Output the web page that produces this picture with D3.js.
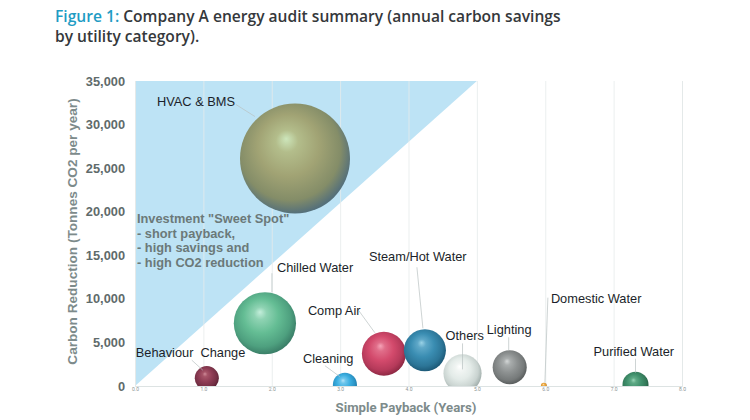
<!DOCTYPE html>
<html>
<head>
<meta charset="utf-8">
<script src="https://cdn.jsdelivr.net/npm/d3@7"></script>
<style>
  body { margin: 0; background: #fff; }
  svg { display: block; }
</style>
</head>
<body>
<div id="chart"></div>
<script>

// data
var categories = ["HVAC & BMS", "Chilled Water", "Behaviour  Change", "Cleaning", "Comp Air",
  "Steam/Hot Water", "Others", "Lighting", "Domestic Water", "Purified Water"];
var payback = [2.34, 1.9, 1.05, 3.07, 3.64, 4.24, 4.79, 5.48, 5.98, 7.32];     // years
var carbon = [26100, 7200, 900, 150, 3700, 4100, 1450, 2150, 40, 150];          // tonnes CO2 / yr
var bubbleSize = [100, 32, 4.8, 4.8, 16, 14.6, 12, 9.6, 0.3, 5.6];                // relative size
var xTicks = [0, 1, 2, 3, 4, 5, 6, 7, 8];
var yTicks = [0, 5000, 10000, 15000, 20000, 25000, 30000, 35000];
// "sweet spot" region corners (payback, carbon)
var sweetSpot = [[0, 0], [0, 35000], [5, 35000]];
var sweetSpotText = ['Investment "Sweet Spot"', "- short payback,", "- high savings and", "- high CO2 reduction"];

// sphere colours: highlight, light, base, shade, edge
var palette = [
  ["#cde6bb", "#b3bd8b", "#a1a374", "#848d68", "#55707a"],
  ["#c4eedb", "#8fd3b3", "#64bd94", "#4ea07f", "#3b7f68"],
  ["#cf8a98", "#a65468", "#8f3d55", "#753045", "#5a2134"],
  ["#b4e4f8", "#6ec6ec", "#3aaee0", "#2a92c4", "#1d78a4"],
  ["#f5a3b7", "#e06d89", "#d34a6c", "#b53a5a", "#8f2944"],
  ["#9ad2e6", "#5fa8c8", "#3a8db2", "#2c7597", "#1d5a78"],
  ["#ffffff", "#f1f5f3", "#e3ebe8", "#c9d3d0", "#a3b0ad"],
  ["#d4d7d7", "#a9adad", "#8d9191", "#767a7a", "#5a5e5e"],
  ["#ffe2a8", "#f2bd67", "#eba43c", "#d08d2c", "#b57820"],
  ["#98d5b7", "#5ea985", "#40906c", "#337858", "#235a42"]
];
// label placement: text start [dx, dy] from bubble centre, leader from/to
var labelLayout = [
  { tx: -138, ty: -53, l1: [-59, -54], l2: [-40, -42] },
  { tx: 12, ty: -51, l1: [7, -50], l2: [7, -31] },
  { tx: -71, ty: -21, l1: [-15, -18], l2: [-4, -8] },
  { tx: -42, ty: -22, l1: [-20, -19], l2: [-5, -8] },
  { tx: -76, ty: -39, l1: [-25, -43], l2: [-9, -21] },
  { tx: -56, ty: -89, l1: [-8, -83], l2: [-2, -22] },
  { tx: -17, ty: -33, l1: [0, -30], l2: [0, -4] },
  { tx: -23, ty: -33, l1: [-1, -30], l2: [-1, -17] },
  { tx: 7, ty: -83, l1: [4, -88], l2: [1, -3] },
  { tx: -42, ty: -29, l1: [0, -26], l2: [0, -12] }
];

var width = 750, height = 420;
var plotLeft = 135, plotRight = 682, plotTop = 81, plotBottom = 386;

var svg = d3.select("#chart").append("svg")
  .attr("width", width)
  .attr("height", height);

// title
var title = svg.append("text")
  .attr("x", 55).attr("y", 22)
  .attr("font-family", "'Open Sans', sans-serif")
  .attr("font-weight", 600)
  .attr("font-size", 15.6)
  .attr("fill", "#35383b");
title.append("tspan").attr("fill", "#1f9cc4").text("Figure 1:");
title.append("tspan").text(" Company A energy audit summary (annual carbon savings");
svg.append("text")
  .attr("x", 55).attr("y", 42)
  .attr("font-family", "'Open Sans', sans-serif")
  .attr("font-weight", 600)
  .attr("font-size", 15.6)
  .attr("fill", "#35383b")
  .text("by utility category).");

var x = d3.scaleLinear().domain([0, 8]).range([plotLeft, plotRight]);
var y = d3.scaleLinear().domain([0, 35000]).range([plotBottom, plotTop]);
var r = d3.scaleSqrt().domain([0, 100]).range([0, 55]);

var defs = svg.append("defs");
defs.append("clipPath").attr("id", "plotClip")
  .append("rect")
  .attr("x", plotLeft).attr("y", plotTop)
  .attr("width", plotRight - plotLeft).attr("height", plotBottom - plotTop);

// sphere shading, light from the upper left
palette.forEach(function (c, i) {
  var g = defs.append("radialGradient")
    .attr("id", "sphere" + i)
    .attr("cx", "46%").attr("cy", "44%").attr("r", "56%")
    .attr("fx", "42%").attr("fy", "32%");
  g.append("stop").attr("offset", "0%").attr("stop-color", c[0]);
  g.append("stop").attr("offset", "18%").attr("stop-color", c[1]);
  g.append("stop").attr("offset", "50%").attr("stop-color", c[2]);
  g.append("stop").attr("offset", "82%").attr("stop-color", c[3]);
  g.append("stop").attr("offset", "100%").attr("stop-color", c[4]);
});

// sweet spot triangle
svg.append("path")
  .attr("d", d3.line().x(d => x(d[0])).y(d => y(d[1]))(sweetSpot) + "Z")
  .attr("fill", "#bde3f5");

// vertical gridlines
svg.append("g")
  .attr("transform", `translate(0, ${plotBottom})`)
  .call(d3.axisBottom(x).tickValues(xTicks).tickSize(-(plotBottom - plotTop)).tickFormat(d3.format(".1f")))
  .call(g => g.select(".domain").attr("stroke", "#dde3e3"))
  .call(g => g.selectAll(".tick line").attr("stroke", "#e6ebeb").attr("stroke-width", 0.8))
  .call(g => g.selectAll(".tick text")
    .attr("fill", "#8a9494").attr("font-size", 5)
    .attr("font-family", "Roboto, sans-serif").attr("dy", "0.3em"));

// y axis labels
svg.append("g")
  .attr("transform", `translate(${plotLeft}, 0)`)
  .call(d3.axisLeft(y).tickValues(yTicks).tickSize(0).tickPadding(10).tickFormat(d3.format(",")))
  .call(g => g.select(".domain").remove())
  .call(g => g.selectAll(".tick text")
    .attr("fill", "#5f6b6b").attr("font-size", 12.8).attr("font-weight", "bold")
    .attr("font-family", "'Liberation Sans', Arial, sans-serif"));

// axis titles
svg.append("text")
  .attr("transform", `translate(77, ${(plotTop + plotBottom) / 2 - 2}) rotate(-90)`)
  .attr("text-anchor", "middle")
  .attr("font-family", "'Liberation Sans', Arial, sans-serif")
  .attr("font-weight", "bold").attr("font-size", 13.6)
  .attr("fill", "#7d8b8b")
  .text("Carbon Reduction (Tonnes CO2 per year)");
svg.append("text")
  .attr("x", 406).attr("y", 412)
  .attr("text-anchor", "middle")
  .attr("font-family", "Roboto, sans-serif")
  .attr("font-weight", "bold").attr("font-size", 13.2)
  .attr("fill", "#7d8b8b")
  .text("Simple Payback (Years)");

// sweet spot note
svg.append("g").selectAll("text")
  .data(sweetSpotText)
  .join("text")
  .attr("x", 137)
  .attr("y", (d, i) => 223 + i * 14.7)
  .attr("font-family", "'Liberation Sans', Arial, sans-serif")
  .attr("font-weight", "bold").attr("font-size", 12.8)
  .attr("fill", "#6b7979")
  .text(d => d);

var data = categories.map((c, i) => ({ name: c, px: payback[i], cy: carbon[i], s: bubbleSize[i], i: i }));

// bubbles
svg.append("g")
  .attr("clip-path", "url(#plotClip)")
  .selectAll("circle")
  .data(data)
  .join("circle")
  .attr("cx", d => x(d.px))
  .attr("cy", d => y(d.cy))
  .attr("r", d => r(d.s))
  .attr("fill", d => `url(#sphere${d.i})`);

// leader lines
svg.append("g").selectAll("line")
  .data(data)
  .join("line")
  .attr("x1", d => x(d.px) + labelLayout[d.i].l1[0])
  .attr("y1", d => y(d.cy) + labelLayout[d.i].l1[1])
  .attr("x2", d => x(d.px) + labelLayout[d.i].l2[0])
  .attr("y2", d => y(d.cy) + labelLayout[d.i].l2[1])
  .attr("stroke", "#b9c2c2").attr("stroke-width", 0.7);

// labels
svg.append("g").selectAll("text")
  .data(data)
  .join("text")
  .attr("x", d => x(d.px) + labelLayout[d.i].tx)
  .attr("y", d => y(d.cy) + labelLayout[d.i].ty)
  .attr("font-family", "'Liberation Sans', Arial, sans-serif")
  .attr("font-size", 12.8)
  .attr("fill", "#1b1f2a")
  .style("white-space", "pre")
  .text(d => d.name);

</script>
</body>
</html>
